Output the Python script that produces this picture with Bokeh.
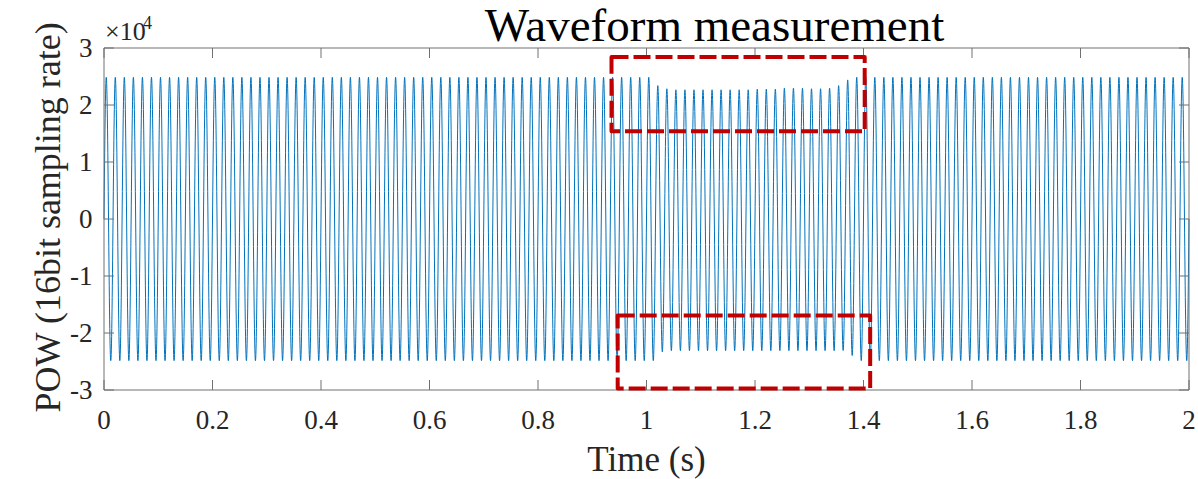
import numpy as np
from bokeh.plotting import figure
from bokeh.models import Range1d
from bokeh.core.properties import value
from bokeh.embed import file_html
from bokeh.resources import INLINE

# ---------------- data ----------------
line_frequency_hz = 60          # 120 cycles in 2 s
x_min, x_max = 0.0, 2.0
y_min, y_max = -30000, 30000
# positive peak of every 60 Hz cycle (counts)
upper_peaks = ([24850] * 61 + [23400, 22850] + [22670] * 9 + [22780] * 3 +
               [22950] * 3 + [22850] * 2 + [22950, 23400, 24400] + [24850] * 37)
# negative peak of every 60 Hz cycle (counts)
lower_peaks = ([-24850] * 61 + [-23300] + [-23100] * 19 + [-23070, -23950] +
               [-24850] * 37)

x_ticks = [0, 0.2, 0.4, 0.6, 0.8, 1, 1.2, 1.4, 1.6, 1.8, 2]
x_tick_labels = ["0", "0.2", "0.4", "0.6", "0.8", "1", "1.2", "1.4", "1.6", "1.8", "2"]
y_ticks = [-30000, -20000, -10000, 0, 10000, 20000, 30000]
y_tick_labels = ["-3", "-2", "-1", "0", "1", "2", "3"]

# highlighted (sag) regions, data units
box_left = [0.9355, 0.9469]
box_right = [1.4022, 1.4123]
box_top = [28400, -16930]
box_bottom = [15400, -29740]

title_text = "Waveform measurement"
x_label = "Time (s)"
y_label = "POW (16bit sampling rate)"
exp_base = "\u00d710"
exp_power = "4"

# ---------------- layout (canvas pixels) ----------------
W, H = 1198, 479
FRAME_L, FRAME_R, FRAME_T, FRAME_B = 103.5, 1188.5, 47.5, 389.5
TICK = 10
sx = (FRAME_R - FRAME_L) / (x_max - x_min)
sy = (FRAME_B - FRAME_T) / (y_max - y_min)

def X(px):
    return x_min + (px - FRAME_L) / sx

def Y(py):
    return y_max - (py - FRAME_T) / sy

# ---------------- sampled waveform ----------------
samples_per_cycle = 64
n_cycles = len(upper_peaks)
idx = np.arange(n_cycles * samples_per_cycle + 1)
t = idx / (line_frequency_hz * samples_per_cycle)
s = np.sin(2 * np.pi * idx / samples_per_cycle)
cyc = np.minimum(idx // samples_per_cycle, n_cycles - 1)
up = np.array(upper_peaks, dtype=float)[cyc]
lo = np.array(lower_peaks, dtype=float)[cyc]
y = np.where(s >= 0, s * up, -s * lo)

FONT = "Liberation Serif"
AX = "#262626"
FRAME = "#707070"

p = figure(width=W, height=H, output_backend="svg", toolbar_location=None,
           x_range=Range1d(X(0), X(W)), y_range=Range1d(Y(H), Y(0)),
           x_axis_type=None, y_axis_type=None, min_border=0)
p.grid.visible = False
p.outline_line_color = None
p.background_fill_color = "white"
p.border_fill_color = "white"

# waveform
p.line(t, y, line_color="#0072BD", line_width=1)

# axes box
p.quad(left=[x_min], right=[x_max], bottom=[y_min], top=[y_max],
       fill_alpha=0, line_color=FRAME, line_width=1)

# tick marks (inward, on all four sides)
nx, ny = len(x_ticks), len(y_ticks)
p.segment(x0=x_ticks, y0=[y_min] * nx, x1=x_ticks, y1=[Y(FRAME_B - TICK)] * nx,
          line_color=FRAME, line_width=1)
p.segment(x0=x_ticks, y0=[y_max] * nx, x1=x_ticks, y1=[Y(FRAME_T + TICK)] * nx,
          line_color=FRAME, line_width=1)
p.segment(x0=[x_min] * ny, y0=y_ticks, x1=[X(FRAME_L + TICK)] * ny, y1=y_ticks,
          line_color=FRAME, line_width=1)
p.segment(x0=[x_max] * ny, y0=y_ticks, x1=[X(FRAME_R - TICK)] * ny, y1=y_ticks,
          line_color=FRAME, line_width=1)

def txt(xs, ys, texts, size, align, color=AX, angle=0.0):
    p.text(x=xs, y=ys, text=texts, text_font=value(FONT),
           text_font_size=value(size), text_color=color, text_align=align,
           text_baseline="middle", angle=angle)

# tick labels (anchored at the vertical middle of the digits)
txt(x_ticks, [Y(419.5)] * nx, x_tick_labels, "27px", "center")
txt([X(92)] * ny, y_ticks, y_tick_labels, "27px", "right")

# exponent
txt([X(104.5)], [Y(30.5)], [exp_base], "26px", "left")
txt([X(142.5)], [Y(22)], [exp_power], "18px", "left")

# axis labels
txt([X(646)], [Y(459)], [x_label], "35px", "center")
txt([X(47)], [Y(216.5)], [y_label], "36px", "center", angle=np.pi / 2)

# title
txt([X(714)], [Y(24)], [title_text], "47px", "center", color="black")

# highlighted regions
p.quad(left=box_left, right=box_right, top=box_top, bottom=box_bottom,
       fill_alpha=0, line_color="#C00000", line_width=4, line_dash="17 5",
       line_join="round")

open("out.html", "w").write(file_html(p, INLINE))
